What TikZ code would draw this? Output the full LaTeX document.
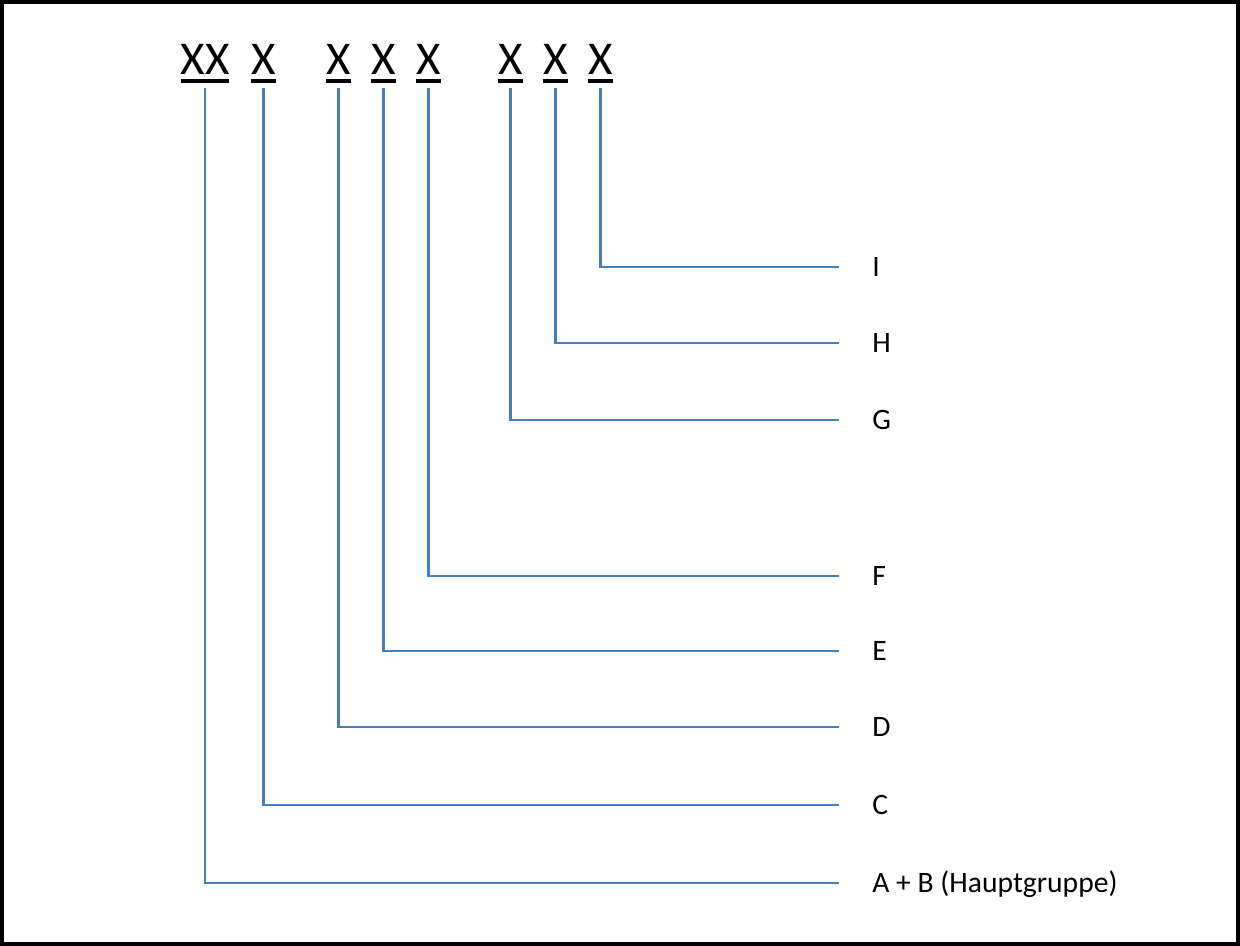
\documentclass[tikz,border=0pt]{standalone}
\usepackage{fontspec}
\setmainfont{Carlito}
\usetikzlibrary{positioning}
\definecolor{LineBlue}{RGB}{74,126,187}
\newcommand{\ulx}[1]{\setbox0=\hbox{#1}\rlap{\rule[-0.16em]{\wd0}{0.075em}}\box0}

\begin{document}
\begin{tikzpicture}[x=0.5pt, y=-0.5pt]
        \tikzstyle{digit} = [inner sep=0, anchor=base, font=\fontsize{23.5}{28}\selectfont]
        \tikzstyle{field} = [inner sep=0, anchor=west, text height=9.5pt, text depth=0pt, font=\fontsize{14.8}{18}\selectfont]
        \tikzstyle{link} = [LineBlue, line width=1.3pt, shorten <=2.75pt, shorten >=16.5pt]

        \useasboundingbox (0,0) rectangle (1240,946);
        \draw [line width=2pt] (2,2) rectangle (1238,943.5);

        % Stellen
        \node (ab) [digit] at (205,75) {\ulx{XX}};
        \node (c) [digit] at (263.5,75) {\ulx{X}};
        \node (d) [digit] at (338.5,75) {\ulx{X}};
        \node (e) [digit] at (383.5,75) {\ulx{X}};
        \node (f) [digit] at (428.5,75) {\ulx{X}};
        \node (g) [digit] at (510.5,75) {\ulx{X}};
        \node (h) [digit] at (555.5,75) {\ulx{X}};
        \node (i) [digit] at (600.5,75) {\ulx{X}};

        % Bedeutungen
        \node (labI) [field] at (872,267) {I};
        \node (labH) [field] at (872,343) {H};
        \node (labG) [field] at (872,420) {G};
        \node (labF) [field] at (872,576) {F};
        \node (labE) [field] at (872,651) {E};
        \node (labD) [field] at (872,727) {D};
        \node (labC) [field] at (872,805) {C};
        \node (labAB) [field] at (872,883) {A + B (Hauptgruppe)};

        % Linien
        \draw [link] (i.south) |- (labI.west);
        \draw [link] (h.south) |- (labH.west);
        \draw [link] (g.south) |- (labG.west);
        \draw [link] (f.south) |- (labF.west);
        \draw [link] (e.south) |- (labE.west);
        \draw [link] (d.south) |- (labD.west);
        \draw [link] (c.south) |- (labC.west);
        \draw [link] (ab.south) |- (labAB.west);
\end{tikzpicture}
\end{document}
